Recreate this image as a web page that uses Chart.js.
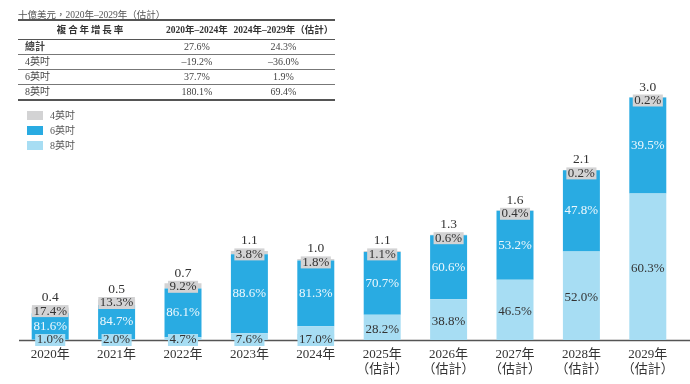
<!DOCTYPE html>
<html>
<head>
<meta charset="utf-8">
<script src="https://cdn.jsdelivr.net/npm/chart.js@4.4.1/dist/chart.umd.min.js"></script>
<style>
  body { margin: 0; background: #fff; }
  #wrap { position: relative; width: 690px; height: 384px; font-family: 'Liberation Serif', 'Noto Sans CJK TC', serif; color: #444; }
  #c { position: absolute; left: 0; top: 0; }
  #title { position: absolute; left: 18px; top: 8px; font-size: 9.5px; line-height: 14px; color: #555; white-space: nowrap; }
  #tbl { position: absolute; left: 18px; top: 19px; width: 317px; border-collapse: collapse; font-size: 10px; color: #444; }
  #tbl td, #tbl th { padding: 0; height: 14px; line-height: 14px; white-space: nowrap; border-bottom: 1.5px solid #777; }
  #tbl th { font-weight: bold; height: 18px; border-top: 2px solid #555; border-bottom: 1.5px solid #555; font-size: 9.5px; color: #333; }
  #tbl tr:last-child td { border-bottom: 2px solid #555; }
  #tbl td.lab { padding-left: 7px; text-align: left; }
  #tbl td.num { text-align: center; }
  .legend { position: absolute; left: 27px; font-size: 10px; color: #555; }
  .legend span.sw { position: absolute; left: 0; top: 0; width: 16px; height: 9px; }
  .legend span.tx { position: absolute; left: 23px; top: -2px; line-height: 14px; white-space: nowrap; }
</style>
</head>
<body>
<div id="wrap">
  <canvas id="c" width="690" height="384"></canvas>
  <div id="title">十億美元，2020年–2029年（估計）</div>
  <table id="tbl">
    <tr><th style="width:144px">複&thinsp;合&thinsp;年&thinsp;增&thinsp;長&thinsp;率</th><th style="width:70px">2020年–2024年</th><th>2024年–2029年（估計）</th></tr>
  </table>
  <div id="legend"></div>
</div>
<script>
// data
const years = ['2020年', '2021年', '2022年', '2023年', '2024年', '2025年', '2026年', '2027年', '2028年', '2029年'];
const estimated = [false, false, false, false, false, true, true, true, true, true];
const totals = [0.4, 0.5, 0.7, 1.1, 1.0, 1.1, 1.3, 1.6, 2.1, 3.0];
const share4 = [17.4, 13.3, 9.2, 3.8, 1.8, 1.1, 0.6, 0.4, 0.2, 0.2];
const share6 = [81.6, 84.7, 86.1, 88.6, 81.3, 70.7, 60.6, 53.2, 47.8, 39.5];
const share8 = [1.0, 2.0, 4.7, 7.6, 17.0, 28.2, 38.8, 46.5, 52.0, 60.3];

const cagrRows = ['總計', '4英吋', '6英吋', '8英吋'];
const cagr2024 = ['27.6%', '–19.2%', '37.7%', '180.1%'];
const cagr2029 = ['24.3%', '–36.0%', '1.9%', '69.4%'];

const seriesNames = ['8英吋', '6英吋', '4英吋'];
const colors = ['#a7ddf3', '#29abe2', '#d3d3d4'];

const serif = "'Liberation Serif', 'Noto Sans CJK TC', serif";

// CAGR table
const tbl = document.getElementById('tbl');
cagrRows.forEach((name, i) => {
    const tr = document.createElement('tr');
    const lab = name === '總計' ? '<b>' + name + '</b>' : name;
    tr.innerHTML = `<td class="lab">${lab}</td><td class="num">${cagr2024[i]}</td><td class="num">${cagr2029[i]}</td>`;
    tbl.appendChild(tr);
});

// legend (top to bottom: 4, 6, 8)
const legend = document.getElementById('legend');
[2, 1, 0].forEach((d, k) => {
    const el = document.createElement('div');
    el.className = 'legend';
    el.style.top = (111 + k * 15) + 'px';
    el.innerHTML = `<span class="sw" style="background:${colors[d]}"></span><span class="tx">${seriesNames[d]}</span>`;
    legend.appendChild(el);
});

const shares = [share8, share6, share4];
const datasets = shares.map((s, d) => ({
    label: seriesNames[d],
    data: s.map((p, i) => totals[i] * p / 100),
    backgroundColor: colors[d],
    borderWidth: 0,
    barPercentage: 0.557,
    categoryPercentage: 1
}));

const labels = years.map((y, i) => estimated[i] ? [y, '（估計）'] : y);

function box(ctx, x, y, text, fill) {
    const w = ctx.measureText(text).width + 3;
    ctx.fillStyle = fill;
    ctx.fillRect(x - w / 2, y - 6, w, 12);
}

const segmentLabels = {
    id: 'segmentLabels',
    beforeDatasetsDraw(chart) {
        const ctx = chart.ctx;
        const yb = chart.scales.y.getPixelForValue(0) + 0.5;
        ctx.save();
        ctx.strokeStyle = '#555';
        ctx.lineWidth = 1.3;
        ctx.beginPath();
        ctx.moveTo(chart.chartArea.left + 2, yb);
        ctx.lineTo(chart.width, yb);
        ctx.stroke();
        ctx.restore();
    },
    afterDatasetsDraw(chart) {
        const ctx = chart.ctx;
        const m8 = chart.getDatasetMeta(0), m6 = chart.getDatasetMeta(1), m4 = chart.getDatasetMeta(2);
        ctx.save();
        ctx.font = '13px ' + serif;
        ctx.textAlign = 'center';
        ctx.textBaseline = 'middle';
        years.forEach((yr, i) => {
            const b8 = m8.data[i].getProps(['x', 'y', 'base'], true);
            const b6 = m6.data[i].getProps(['x', 'y', 'base'], true);
            const b4 = m4.data[i].getProps(['x', 'y', 'base'], true);
            const x = b8.x;

            // 8 inch
            const t8 = share8[i].toFixed(1) + '%';
            let y8;
            if (b8.base - b8.y < 20) {
                y8 = b8.base;
                box(ctx, x, y8, t8, colors[0]);
            } else {
                y8 = (b8.y + b8.base) / 2 + 2;
            }
            ctx.fillStyle = '#333';
            ctx.fillText(t8, x, y8);

            // 6 inch
            ctx.fillStyle = '#eef8fd';
            ctx.fillText(share6[i].toFixed(1) + '%', x, (b6.y + b6.base) / 2);

            // 4 inch
            const t4 = share4[i].toFixed(1) + '%';
            const y4 = b4.y + 3.5;
            box(ctx, x, y4, t4, colors[2]);
            ctx.fillStyle = '#333';
            ctx.fillText(t4, x, y4);

            // total
            ctx.fillStyle = '#333';
            ctx.font = '13.5px ' + serif;
            ctx.fillText(totals[i].toFixed(1), x, b4.y - 10);
            ctx.font = '13px ' + serif;
        });
        ctx.restore();
    }
};

new Chart(document.getElementById('c'), {
    type: 'bar',
    data: { labels: labels, datasets: datasets },
    options: {
        responsive: false,
        animation: false,
        layout: { padding: { top: 97, left: 17, right: 9, bottom: 0 } },
        plugins: { legend: { display: false }, tooltip: { enabled: false } },
        scales: {
            x: {
                stacked: true,
                grid: { display: false },
                border: { display: false },
                ticks: {
                    color: '#333',
                    padding: -1,
                    maxRotation: 0,
                    autoSkip: false,
                    font: { family: serif, size: 13, lineHeight: 1.15 }
                },
                afterFit(scale) { scale.height = 44; }
            },
            y: { stacked: true, display: false, min: 0, max: 3.0 }
        }
    },
    plugins: [segmentLabels]
});
</script>
</body>
</html>
